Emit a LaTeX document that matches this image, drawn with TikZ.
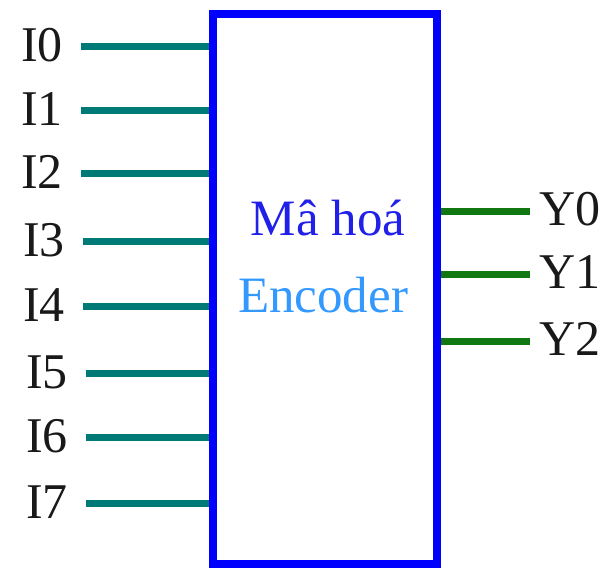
\documentclass[tikz,border=0pt]{standalone}
\usepackage{fontspec}
\setmainfont{Liberation Serif}
\usetikzlibrary{backgrounds}
\definecolor{tealline}{HTML}{007A76}
\definecolor{greenline}{HTML}{117711}
\definecolor{boxblue}{HTML}{0000FF}
\definecolor{txtblue}{HTML}{2020E8}
\definecolor{lightblue}{HTML}{3399FF}
\begin{document}
\begin{tikzpicture}[x=1pt,y=-1pt,
  lbl/.style={inner sep=0pt,font=\fontsize{50}{54}\selectfont,text=black!90},
  inwire/.style={draw=tealline,line width=7pt},
  outwire/.style={draw=greenline,line width=7pt}]
\useasboundingbox (0,0) rectangle (609,568);
\node[draw=boxblue,line width=8pt,minimum width=224pt,minimum height=550pt,inner sep=0pt,outer sep=0pt,anchor=north west] (enc) at (213,14) {};
\node[inner sep=0pt,font=\fontsize{51}{54}\selectfont,text=txtblue] (t1) at (328,218) {Mâ hoá};
\node[inner sep=0pt,font=\fontsize{51}{54}\selectfont,text=lightblue] (t2) at (323,295) {Encoder};
\begin{scope}[on background layer]
\foreach \i/\y/\x in {0/46/81,1/110/81,2/173/81,3/241/83,4/306/83,5/373/86,6/437/86,7/503/86}{
  \coordinate (a\i) at (\x,\y);
  \draw[inwire] (a\i) -- (a\i -| enc.west);
  \node[lbl,anchor=east] (I\i) at ([xshift=-18pt,yshift=1pt]a\i) {I\i};
}
\foreach \i/\y in {0/211,1/274,2/341}{
  \coordinate (d\i) at (530,\y);
  \draw[outwire] (d\i -| enc.east) -- (d\i);
  \node[lbl,anchor=west] (Y\i) at ([xshift=9pt,yshift=2pt]d\i) {Y\i};
}
\end{scope}
\end{tikzpicture}
\end{document}
